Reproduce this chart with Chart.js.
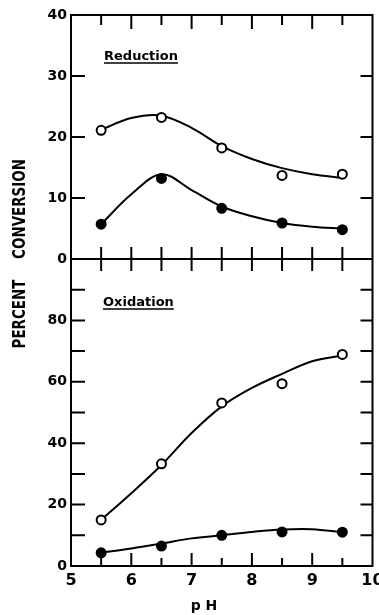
<!DOCTYPE html>
<html lang="en">
<head>
<meta charset="UTF-8" />
<title>Percent conversion vs pH</title>
<script src="https://cdn.jsdelivr.net/npm/chart.js@4.4.0/dist/chart.umd.min.js"></script>
<style>
  html, body { margin: 0; padding: 0; background: #fff; }
</style>
</head>
<body>
<canvas id="myChart" width="379" height="615"></canvas>
<script>
// measured points (open / filled circles)
const phPoints = [5.5, 6.5, 7.5, 8.5, 9.5];
const redOpen = [21.1, 23.2, 18.2, 13.7, 13.9];
const redFilled = [5.7, 13.2, 8.3, 5.9, 4.8];
const oxOpen = [15.0, 33.3, 53.1, 59.4, 68.9];
const oxFilled = [4.3, 6.5, 10.0, 11.1, 11.0];

// drawn fit curves, every 0.5 pH
const phCurve = [5.5, 6.0, 6.5, 7.0, 7.5, 8.0, 8.5, 9.0, 9.5];
const redOpenCurve = [21.2, 23.1, 23.5, 21.5, 18.5, 16.4, 14.9, 13.9, 13.3];
const redFilledCurve = [5.7, 10.6, 13.9, 11.3, 8.6, 7.0, 5.9, 5.3, 5.0];
const oxOpenCurve = [15.0, 23.7, 32.9, 43.3, 52.0, 58.0, 62.6, 66.7, 68.6];
const oxFilledCurve = [4.3, 5.7, 7.3, 9.0, 10.0, 11.1, 11.9, 12.0, 11.0];

const xTickVals = [5.5, 6, 6.5, 7, 7.5, 8, 8.5, 9, 9.5];
const topTickVals = [10, 20, 30];
const botTickVals = [10, 20, 30, 40, 50, 60, 70, 80, 90];

const FONT = "'DejaVu Sans', sans-serif";

function pts(xs, ys) {
  return xs.map((x, i) => ({ x: x, y: ys[i] }));
}

function curve(ys, axis) {
  return {
    data: pts(phCurve, ys),
    yAxisID: axis,
    borderColor: '#000',
    borderWidth: 2,
    pointRadius: 0,
    tension: 0.35,
    fill: false,
    order: 2
  };
}

function marks(ys, axis, filled) {
  return {
    data: pts(phPoints, ys),
    yAxisID: axis,
    showLine: false,
    pointRadius: 4.5,
    pointBorderWidth: 2,
    pointBorderColor: '#000',
    pointBackgroundColor: filled ? '#000' : '#fff',
    order: 1
  };
}

// frame, inward tick marks and free text
const decor = {
  id: 'decor',
  afterDatasetsDraw(chart) {
    const { ctx, chartArea: a, scales } = chart;
    const x = scales.x, yT = scales.yTop, yB = scales.yBot;
    const mid = yT.getPixelForValue(0);
    ctx.save();
    ctx.strokeStyle = '#000';
    ctx.lineWidth = 2;
    ctx.strokeRect(a.left, a.top, a.right - a.left, a.bottom - a.top);
    ctx.beginPath();
    ctx.moveTo(a.left, mid);
    ctx.lineTo(a.right, mid);
    xTickVals.forEach(v => {
      const px = x.getPixelForValue(v);
      const whole = Number.isInteger(v);
      ctx.moveTo(px, a.top); ctx.lineTo(px, a.top + (whole ? 14 : 10));
      ctx.moveTo(px, mid - 12); ctx.lineTo(px, mid + 12);
      ctx.moveTo(px, a.bottom); ctx.lineTo(px, a.bottom - (whole ? 13 : 8));
    });
    topTickVals.forEach(v => {
      const py = yT.getPixelForValue(v);
      ctx.moveTo(a.left, py); ctx.lineTo(a.left + 14, py);
      ctx.moveTo(a.right, py); ctx.lineTo(a.right - 12, py);
    });
    botTickVals.forEach(v => {
      const py = yB.getPixelForValue(v);
      ctx.moveTo(a.left, py); ctx.lineTo(a.left + 14, py);
      ctx.moveTo(a.right, py); ctx.lineTo(a.right - 12, py);
    });
    ctx.stroke();

    ctx.fillStyle = '#000';
    ctx.font = 'bold 13px ' + FONT;
    ctx.textBaseline = 'alphabetic';
    ctx.textAlign = 'left';
    [['Reduction', 104, 60], ['Oxidation', 103, 306]].forEach(([t, tx, ty]) => {
      ctx.fillText(t, tx, ty);
      const w = ctx.measureText(t).width;
      ctx.lineWidth = 1.5;
      ctx.beginPath();
      ctx.moveTo(tx, ty + 3);
      ctx.lineTo(tx + w, ty + 3);
      ctx.stroke();
    });

    ctx.font = 'bold 14px ' + FONT;
    ctx.textAlign = 'center';
    ctx.textBaseline = 'middle';
    ctx.fillText('p H', 204, 606);

    // rotated axis title, two words
    ctx.font = 'bold 12px ' + FONT;
    [['CONVERSION', 209], ['PERCENT', 314]].forEach(([t, cy]) => {
      ctx.save();
      ctx.translate(20, cy);
      ctx.rotate(-Math.PI / 2);
      ctx.scale(1.12, 1.45);
      ctx.fillText(t, 0, 0);
      ctx.restore();
    });
    ctx.restore();
  }
};

const ctx = document.getElementById('myChart').getContext('2d');
const myChart = new Chart(ctx, {
  type: 'line',
  data: {
    datasets: [
      marks(redOpen, 'yTop', false),
      marks(redFilled, 'yTop', true),
      marks(oxOpen, 'yBot', false),
      marks(oxFilled, 'yBot', true),
      curve(redOpenCurve, 'yTop'),
      curve(redFilledCurve, 'yTop'),
      curve(oxOpenCurve, 'yBot'),
      curve(oxFilledCurve, 'yBot')
    ]
  },
  options: {
    responsive: false,
    animation: false,
    layout: { padding: { top: 15, right: 6, left: 0, bottom: 0 } },
    plugins: { legend: { display: false }, tooltip: { enabled: false } },
    scales: {
      x: {
        type: 'linear',
        min: 5,
        max: 10,
        grid: { display: false, drawTicks: false },
        border: { display: false },
        ticks: {
          stepSize: 1,
          padding: 5,
          color: '#000',
          font: { family: FONT, size: 16, weight: 'bold' }
        },
        afterFit: s => { s.height = 49; s.paddingLeft = 0; s.paddingRight = 0; }
      },
      yBot: {
        type: 'linear',
        position: 'left',
        stack: 'panels',
        stackWeight: 307,
        min: 0,
        max: 100,
        grid: { display: false, drawTicks: false },
        border: { display: false },
        ticks: {
          stepSize: 10,
          autoSkip: false,
          padding: 4,
          color: '#000',
          font: { family: FONT, size: 14, weight: 'bold' },
          callback: v => (v % 20 === 0 && v < 100 ? v : '')
        },
        afterFit: s => { s.width = 71; s.paddingTop = 0; s.paddingBottom = 0; }
      },
      yTop: {
        type: 'linear',
        position: 'left',
        stack: 'panels',
        stackWeight: 244,
        min: 0,
        max: 40,
        grid: { display: false, drawTicks: false },
        border: { display: false },
        ticks: {
          stepSize: 10,
          autoSkip: false,
          padding: 4,
          color: '#000',
          font: { family: FONT, size: 14, weight: 'bold' }
        },
        afterFit: s => { s.width = 71; s.paddingTop = 0; s.paddingBottom = 0; }
      }
    }
  },
  plugins: [decor]
});
</script>
</body>
</html>
